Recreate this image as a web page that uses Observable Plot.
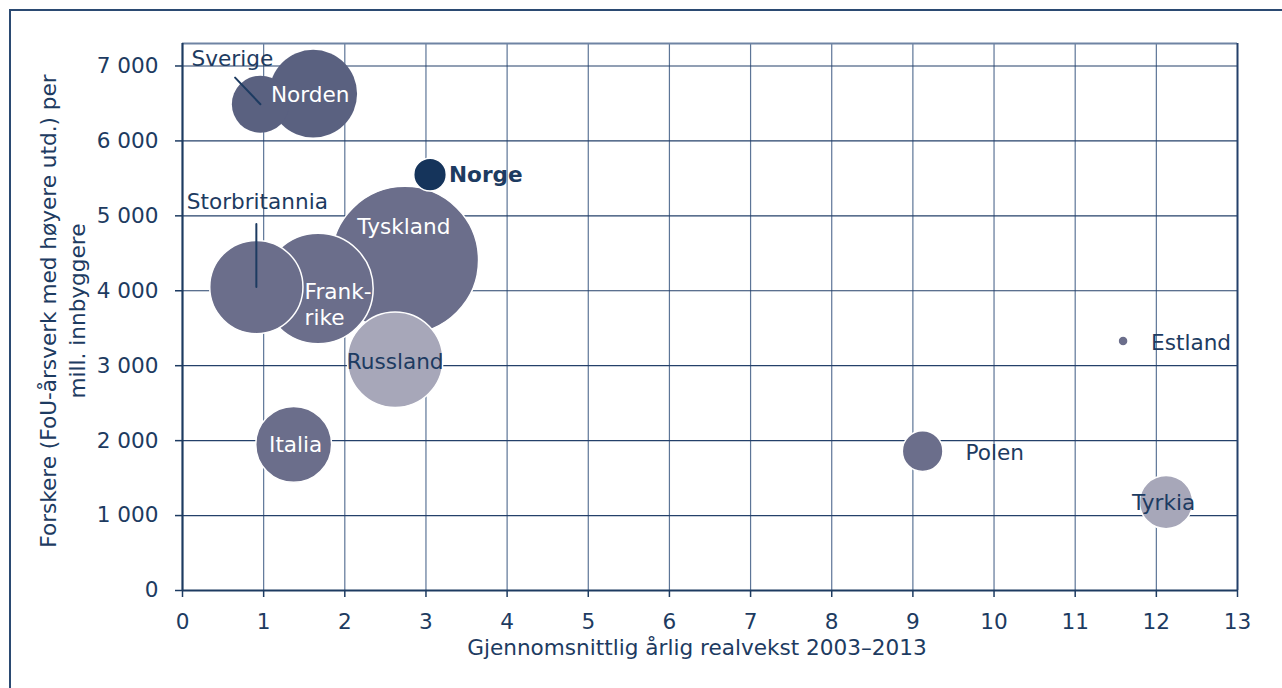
<!DOCTYPE html>
<html>
<head>
<meta charset="utf-8">
<script src="https://cdn.jsdelivr.net/npm/d3@7"></script>
<script src="https://cdn.jsdelivr.net/npm/@observablehq/plot@0.6"></script>
<style>
  html, body { margin: 0; padding: 0; background: #fff; overflow: hidden; }
  #wrap { position: relative; width: 1282px; height: 688px; }
  #frame { position: absolute; left: 9px; top: 9px; width: 1400px; height: 800px;
           border-left: 2px solid #2b4a72; border-top: 2px solid #2b4a72; pointer-events: none; }
</style>
</head>
<body>
<div id="wrap"><div id="frame"></div></div>
<script>
// ---- data ----
const countries   = ["Tyskland", "Frankrike", "Storbritannia", "Russland", "Norden", "Sverige", "Italia", "Norge", "Polen", "Tyrkia", "Estland"];
const growth      = [2.74, 1.67, 0.91, 2.62, 1.61, 0.96, 1.37, 3.05, 9.12, 12.12, 11.59];   // Gjennomsnittlig årlig realvekst 2003–2013
const researchers = [4410, 4030, 4050, 3080, 6630, 6490, 1950, 5550, 1860, 1180, 3330];      // Forskere per mill. innbyggere
const gerd        = [100, 56, 40, 42, 35.5, 15, 26.5, 4.9, 7.6, 13, 0.46];                    // bubble size
const groups      = ["mid", "mid", "mid", "light", "dark", "dark", "mid", "norge", "mid", "light", "mid"];
const labelText   = ["Tyskland", "Frank-\nrike", "Storbritannia", "Russland", "Norden", "Sverige", "Italia", "Norge", "Polen", "Tyrkia", "Estland"];
const xTicks = [0, 1, 2, 3, 4, 5, 6, 7, 8, 9, 10, 11, 12, 13];
const yTicks = [0, 1000, 2000, 3000, 4000, 5000, 6000, 7000];
const xTitle = "Gjennomsnittlig årlig realvekst 2003–2013";
const yTitle = "Forskere (FoU-årsverk med høyere utd.) per\nmill. innbyggere";

const data = countries.map((c, i) => ({name: c, x: growth[i], y: researchers[i], size: gerd[i], group: groups[i], label: labelText[i]}));

// ---- styles ----
const FS = 21.6;
const navy = "#1d3b61";
const groupDomain = ["dark", "mid", "light", "norge"];
const groupColors = ["#5a6180", "#6b6e8b", "#a7a7b9", "#15345b"];
const labelStyle = {
  "Tyskland":      {dx: -1,   dy: -33, anchor: "middle", fill: "white"},
  "Frankrike":     {dx: -13.5, dy: 15, anchor: "start",  fill: "white", lineHeight: 1.24},
  "Storbritannia": {dx: 1,    dy: -85, anchor: "middle", fill: navy},
  "Russland":      {dx: 0,    dy: 2,   anchor: "middle", fill: navy},
  "Norden":        {dx: -3,   dy: 1,   anchor: "middle", fill: "white"},
  "Sverige":       {dx: -28,  dy: -45, anchor: "middle", fill: navy},
  "Italia":        {dx: 2,    dy: 1,   anchor: "middle", fill: "white"},
  "Norge":         {dx: 19,   dy: 0,   anchor: "start",  fill: navy, weight: "bold"},
  "Polen":         {dx: 43,   dy: 2,   anchor: "start",  fill: navy},
  "Tyrkia":        {dx: -2.5, dy: 1,   anchor: "middle", fill: navy},
  "Estland":       {dx: 28,   dy: 2,   anchor: "start",  fill: navy}
};
const leaders = [
  {name: "Sverige", length: 36.7, rotate: -43.6},
  {name: "Storbritannia", length: 63, rotate: 0}
];
const lineShape = {draw(context, l) { context.moveTo(0, 0); context.lineTo(0, -l); }};
const fmt = d3.formatLocale({thousands: " ", grouping: [3], decimal: ","}).format(",");

const labelMarks = data.map(d => {
  const s = labelStyle[d.name];
  return Plot.text([d], {x: "x", y: "y", text: "label", dx: s.dx, dy: s.dy, textAnchor: s.anchor,
    fill: s.fill, fontSize: FS, fontWeight: s.weight || "normal", lineHeight: s.lineHeight || 1});
});
const leaderMarks = leaders.map(l => {
  const d = data.find(e => e.name === l.name);
  return Plot.vector([d], {x: "x", y: "y", length: l.length, rotate: l.rotate, anchor: "start",
    shape: lineShape, stroke: navy, strokeWidth: 2});
});

const chart = Plot.plot({
  width: 1282,
  height: 688,
  marginLeft: 182,
  marginRight: 45,
  marginTop: 43,
  marginBottom: 98,
  style: {fontFamily: "'DejaVu Sans', Verdana, sans-serif", fontSize: FS + "px", color: navy, background: "transparent", overflow: "visible"},
  x: {domain: [0, 13]},
  y: {domain: [0, 7300]},
  r: {type: "sqrt", domain: [0, 100], range: [0, 73.7]},
  color: {domain: groupDomain, range: groupColors},
  marks: [
    Plot.gridX(xTicks.slice(1, -1), {stroke: "#5d7597", strokeOpacity: 1, strokeWidth: 1.2}),
    Plot.gridY(yTicks.slice(1), {stroke: "#24406a", strokeOpacity: 1, strokeWidth: 1.2}),
    Plot.ruleY([7300], {stroke: "#6f84a3", strokeWidth: 2}),
    Plot.ruleX([13], {stroke: "#24406a", strokeWidth: 2}),
    Plot.dot(data.filter(d => d.group === "dark"), {x: "x", y: "y", r: "size", fill: "group", sort: null}),
    Plot.dot(data.filter(d => d.group !== "dark"), {x: "x", y: "y", r: "size", fill: "group", stroke: "white", strokeWidth: 1.5, sort: null}),
    ...leaderMarks,
    ...labelMarks,
    Plot.axisX(xTicks, {tickSize: 7, tickPadding: 16, label: null, strokeWidth: 1.5, fontSize: FS}),
    Plot.axisY(yTicks, {tickSize: 7, tickPadding: 17, label: null, tickFormat: fmt, strokeWidth: 1.5, fontSize: FS}),
    Plot.ruleY([0], {stroke: navy, strokeWidth: 2.2}),
    Plot.ruleX([0], {stroke: navy, strokeWidth: 2.2}),
    Plot.text([xTitle], {frameAnchor: "bottom", text: d => d, dx: -13, dy: 64.5, fill: navy, fontSize: FS}),
    Plot.text([yTitle], {frameAnchor: "left", textAnchor: "middle", text: d => d, rotate: -90, dx: -121, dy: -6,
      lineHeight: 1.34, fill: navy, fontSize: FS})
  ]
});
chart.style.position = "absolute";
chart.style.left = "0px";
chart.style.top = "0px";
document.getElementById("wrap").appendChild(chart);
</script>
</body>
</html>
